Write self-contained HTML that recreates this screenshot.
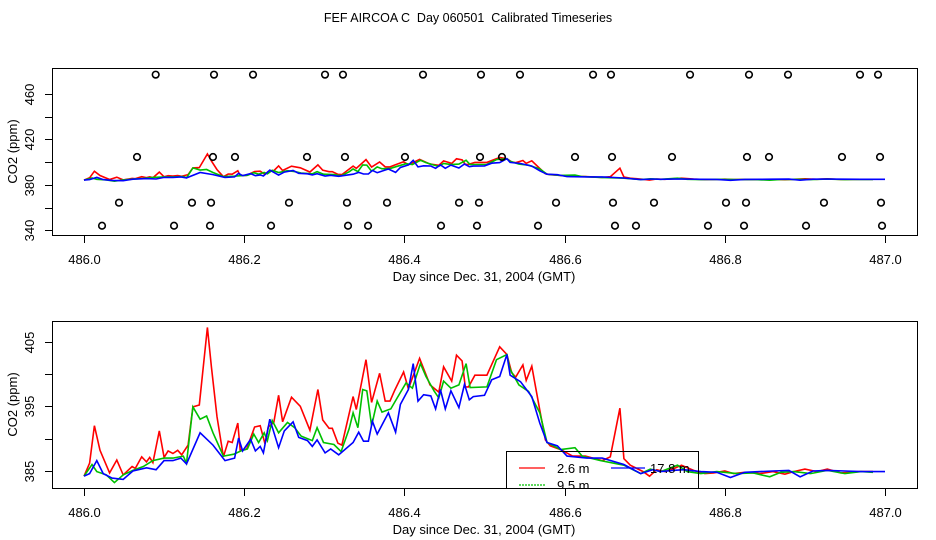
<!DOCTYPE html>
<html><head><meta charset="utf-8"><style>
body{margin:0;background:#fff;}
svg{display:block;font-family:"Liberation Sans",sans-serif;}
</style></head><body>
<svg id="c" width="936" height="540" viewBox="0 0 936 540">
<text x="468" y="22" text-anchor="middle" font-size="12.5" style="white-space:pre">FEF AIRCOA C  Day 060501  Calibrated Timeseries</text>
<defs>
<clipPath id="clipTop"><rect x="52" y="68" width="865" height="167"/></clipPath>
<clipPath id="clipBot"><rect x="52" y="321" width="865" height="167"/></clipPath>
</defs>
<g id="top"></g>
<g id="bot"></g>
</svg>
<script>
const redDays=[486.0,486.007,486.013,486.02,486.032,486.041,486.049,486.06,486.064,486.072,486.078,486.082,486.086,486.094,486.1,486.105,486.111,486.117,486.122,486.13,486.136,486.144,486.154,486.159,486.166,486.174,486.18,486.185,486.192,486.195,486.203,486.213,486.22,486.226,486.23,486.237,486.243,486.248,486.259,486.27,486.282,486.292,486.298,486.306,486.31,486.317,486.322,486.336,486.34,486.352,486.359,486.369,486.376,486.382,486.388,486.399,486.405,486.419,486.432,486.443,486.449,486.459,486.465,486.472,486.476,486.48,486.488,486.503,486.519,486.528,486.534,486.539,486.548,486.552,486.559,486.569,486.576,486.582,486.595,486.61,486.626,486.647,486.657,486.669,486.674,486.682,486.698,486.706,486.715,486.725,486.735,486.746,486.761,486.775,486.786,486.8,486.811,486.825,486.844,486.86,486.875,486.886,486.9,486.915,486.928,486.945,486.969,486.985];
const redVals=[384.2,386.2,392.0,388.2,384.7,386.7,384.4,385.7,385.4,387.2,386.4,387.1,386.3,391.2,387.1,388.1,387.7,388.2,387.5,389.0,394.9,395.2,407.2,401.1,393.4,387.2,389.6,389.4,392.4,388.2,388.4,391.8,392.0,389.2,391.8,392.5,396.7,392.6,396.4,395.0,391.3,397.6,392.9,391.6,391.6,389.3,389.0,396.5,394.5,402.2,395.6,400.1,395.8,395.8,397.5,400.3,397.7,402.4,398.3,397.2,401.1,398.9,402.9,402.0,398.0,398.0,399.8,399.8,404.2,403.0,400.2,399.5,401.4,399.0,401.2,394.4,389.8,388.9,388.3,387.3,387.3,386.6,387.2,394.7,386.9,385.9,384.9,384.2,385.2,384.9,385.3,385.9,385.1,384.6,384.7,385.0,384.6,384.8,384.6,384.9,384.5,384.9,385.3,384.9,385.3,384.7,384.9,384.9];
const greenDays=[486.0,486.01,486.016,486.028,486.038,486.049,486.061,486.074,486.086,486.1,486.111,486.124,486.128,486.136,486.145,486.153,486.161,486.174,486.187,486.196,486.204,486.212,486.218,486.225,486.229,486.235,486.243,486.254,486.263,486.271,486.285,486.291,486.299,486.312,486.321,486.331,486.336,486.342,486.348,486.353,486.359,486.366,486.372,486.383,486.391,486.402,486.41,486.42,486.427,486.437,486.443,486.449,486.458,486.468,486.477,486.482,486.503,486.515,486.528,486.532,486.543,486.555,486.569,486.578,486.595,486.613,486.622,486.645,486.674,486.695,486.707,486.72,486.741,486.753,486.77,486.79,486.815,486.835,486.856,486.87,486.886,486.907,486.928,486.95,486.97,486.985];
const greenVals=[384.2,386.0,384.9,384.4,383.2,384.4,385.1,385.7,386.6,387.0,387.0,387.3,386.2,394.9,393.0,393.5,390.9,387.3,387.6,388.1,388.4,390.7,389.4,390.9,389.7,392.8,390.9,392.5,391.7,390.4,389.7,391.7,389.4,389.1,388.0,391.5,394.0,391.7,397.6,397.4,392.0,395.8,394.1,394.6,396.3,398.6,397.8,401.6,399.6,397.4,396.3,398.9,397.8,398.3,401.6,397.9,398.0,402.2,403.0,400.7,398.3,397.3,394.0,389.4,388.3,388.6,387.3,386.6,385.9,384.6,385.3,384.9,385.9,384.9,384.6,384.9,384.6,384.7,384.1,384.8,384.9,384.6,385.1,384.6,384.9,384.8];
const blueDays=[486.0,486.007,486.016,486.024,486.035,486.049,486.061,486.078,486.09,486.1,486.111,486.121,486.128,486.145,486.161,486.176,486.188,486.193,486.198,486.208,486.214,486.22,486.224,486.232,486.243,486.25,486.261,486.268,486.279,486.285,486.291,486.301,486.308,486.318,486.336,486.343,486.349,486.355,486.36,486.366,486.38,486.389,486.395,486.405,486.411,486.417,486.424,486.433,486.439,486.445,486.451,486.458,486.468,486.475,486.481,486.486,486.5,486.509,486.519,486.528,486.532,486.545,486.559,486.569,486.578,486.591,486.603,486.628,486.647,486.674,486.695,486.71,486.72,486.735,486.749,486.77,486.79,486.807,486.825,486.844,486.86,486.88,486.894,486.91,486.928,486.95,486.97,487.0];
const blueVals=[384.2,384.6,386.6,384.6,383.9,383.7,385.0,385.5,385.2,386.6,386.6,387.0,386.1,390.9,389.0,386.6,387.0,390.1,388.1,389.9,388.1,388.8,387.8,393.0,388.6,391.2,392.6,390.2,389.7,388.8,389.8,387.8,388.4,387.5,389.4,391.0,389.6,389.6,392.7,390.7,394.0,391.0,395.3,397.6,401.6,395.8,396.8,396.6,394.6,397.6,394.6,397.4,394.8,398.4,396.0,396.5,396.7,399.1,399.6,403.0,399.8,398.8,396.5,392.4,389.4,388.9,387.3,387.0,387.0,386.0,384.6,385.2,384.9,385.1,385.2,384.9,384.8,384.0,384.8,384.9,385.0,385.1,384.1,385.0,385.1,385.0,384.9,384.9];
const circleDays=[486.0895,486.1623,486.211,486.3009,486.3233,486.4232,486.4956,486.5443,486.6355,486.6579,486.7566,486.8302,486.8789,486.9688,486.9913,
486.0662,486.161,486.1885,486.2784,486.3258,486.4007,486.4944,486.5218,486.613,486.6592,486.7341,486.8277,486.8552,486.9463,486.9938,
486.0437,486.1348,486.1586,486.2559,486.3283,486.3783,486.4682,486.4931,486.5893,486.6604,486.7116,486.8015,486.8265,486.9238,486.995,
486.0225,486.1124,486.1573,486.2335,486.3296,486.3546,486.4457,486.4906,486.5668,486.6629,486.6891,486.779,486.824,486.9014,486.9963];
const circleVals=[477,477,477,477,477,477,477,477,477,477,477,477,477,477,477,
404.5,404.5,404.5,404.5,404.5,404.5,404.5,404.5,404.5,404.5,404.5,404.5,404.5,404.5,404.5,
364.3,364.3,364.3,364.3,364.3,364.3,364.3,364.3,364.3,364.3,364.3,364.3,364.3,364.3,364.3,
344,344,344,344,344,344,344,344,344,344,344,344,344,344,344];
const xTicks=[486.0,486.2,486.4,486.6,486.8,487.0];
const xTickLabels=["486.0","486.2","486.4","486.6","486.8","487.0"];
const topYTicks=[340,360,380,400,420,440,460];
const topYLabels=["340","","380","","420","","460"];
const botYTicks=[385,390,395,400,405];
const botYLabels=["385","","395","","405"];

const NS="http://www.w3.org/2000/svg";
function mk(tag,attrs,parent){const e=document.createElementNS(NS,tag);for(const k in attrs)e.setAttribute(k,attrs[k]);parent.appendChild(e);return e;}
const xS=d=>84+(d-486)*801;

function panel(g,top,bottom,yS,yTicks,yLabels,clip,withCircles){
  const left=52,right=917;
  const sg=mk('g',{'clip-path':'url(#'+clip+')'},g);
  
  
  const series=[[redDays,redVals,'#ff0000','series-2-6m'],[greenDays,greenVals,'#00c000','series-9-5m'],[blueDays,blueVals,'#0000ff','series-17-8m']];
  series.forEach(s=>{
    const pts=s[0].map((d,i)=>xS(d).toFixed(1)+','+yS(s[1][i]).toFixed(1)).join(' ');
    const p=mk('polyline',{points:pts,fill:'none',stroke:s[2],'stroke-width':1.6},sg);
    
    
  });
  if(withCircles){
    circleDays.forEach((d,i)=>{
      const c=mk('circle',{cx:xS(d),cy:yS(circleVals[i]),r:3.3,fill:'none',stroke:'#000','stroke-width':1.6},g);
      
      
    });
  }
  const box=mk('rect',{x:left+0.5,y:top+0.5,width:right-left,height:bottom-top,fill:'none',stroke:'#000','stroke-width':1},g);
  
  
  const xa=mk('g',{},g);
  
  
  xTicks.forEach((t,i)=>{
    const x=Math.round(xS(t))+0.5;
    mk('line',{x1:x,x2:x,y1:bottom,y2:bottom+8,stroke:'#000'},xa);
    const tx=mk('text',{x:x,y:bottom+29,'text-anchor':'middle','font-size':13},xa);
    tx.textContent=xTickLabels[i];
    
    
  });
  const xt=mk('text',{x:484,y:bottom+46,'text-anchor':'middle','font-size':13},g);
  xt.textContent='Day since Dec. 31, 2004 (GMT)';
  
  
  const ya=mk('g',{},g);
  
  
  yTicks.forEach((t,i)=>{
    const y=Math.round(yS(t))+0.5;
    mk('line',{x1:left-7,x2:left,y1:y,y2:y,stroke:'#000'},ya);
    if(yLabels[i]){
      const tx=mk('text',{x:0,y:0,'text-anchor':'middle','font-size':13,transform:'translate(34,'+y+') rotate(-90)'},ya);
      tx.textContent=yLabels[i];
      
      
    }
  });
  const yt=mk('text',{x:0,y:0,'text-anchor':'middle','font-size':13,transform:'translate(17,'+((top+bottom)/2)+') rotate(-90)'},g);
  yt.textContent='CO2 (ppm)';
  
  
}
const topG=document.getElementById('top'), botG=document.getElementById('bot');
panel(topG,68,235,v=>230.3-(v-340)*1.136,topYTicks,topYLabels,'clipTop',true);
panel(botG,321,488,v=>471-(v-385)*6.47,botYTicks,botYLabels,'clipBot',false);

const lg=mk('g',{'clip-path':'url(#clipBot)'},botG);


mk('rect',{x:506.5,y:451.5,width:192,height:60,fill:'none',stroke:'#000'},lg);
const entries=[[519,545,468,557,473,'#ff0000','2.6 m',''],[611,645,468,650,473,'#0000ff','17.8 m',''],[519,545,485,557,490,'#00c000','9.5 m','2,1']];
entries.forEach(e=>{
  const l=mk('line',{x1:e[0],x2:e[1],y1:e[2],y2:e[2],stroke:e[5],'stroke-width':1.3},lg);
  if(e[7]) l.setAttribute('stroke-dasharray',e[7]);
  
  
  const t=mk('text',{x:e[3],y:e[4],'font-size':13},lg);
  t.textContent=e[6];
  
  
});
</script>
</body></html>
